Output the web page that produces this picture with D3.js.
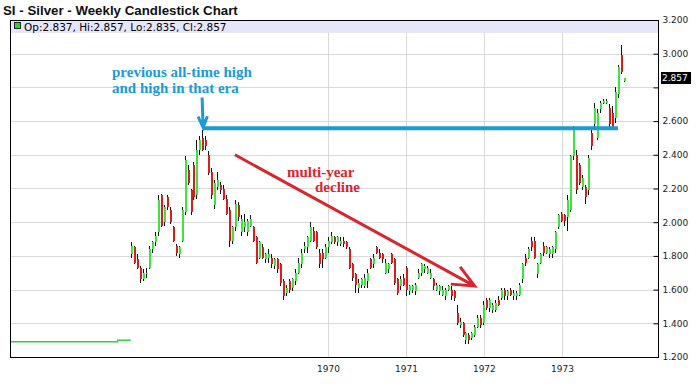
<!DOCTYPE html>
<html>
<head>
<meta charset="utf-8">
<script src="https://cdnjs.cloudflare.com/ajax/libs/d3/7.8.5/d3.min.js"></script>
<style>
  body { margin: 0; background: #fff; }
</style>
</head>
<body>
<div id="chartArea"></div>
<script>

var opens = [
	1.81,1.85,1.78,1.73,1.66,1.69,1.73,1.84,1.88,1.94,
	2.16,2.00,2.15,2.07,1.97,1.86,1.81,1.89,2.06,2.31,
	2.19,2.34,2.16,2.43,2.50,2.49,2.40,2.30,2.10,2.21,
	2.22,2.20,2.14,2.07,1.89,1.97,2.10,1.94,1.97,1.94,
	1.98,1.97,1.91,1.79,1.85,1.78,1.79,1.79,1.74,1.78,
	1.75,1.65,1.58,1.65,1.61,1.65,1.70,1.75,1.84,1.85,
	1.89,1.95,1.94,1.82,1.82,1.79,1.85,1.88,1.91,1.88,
	1.87,1.89,1.88,1.84,1.75,1.69,1.61,1.63,1.62,1.65,
	1.78,1.75,1.85,1.82,1.81,1.70,1.72,1.81,1.78,1.66,
	1.62,1.67,1.73,1.59,1.60,1.59,1.67,1.70,1.72,1.70,
	1.67,1.66,1.60,1.59,1.57,1.56,1.60,1.60,1.59,1.46,
	1.39,1.40,1.30,1.33,1.31,1.33,1.38,1.43,1.40,1.54,
	1.49,1.48,1.48,1.54,1.55,1.60,1.56,1.60,1.56,1.56,
	1.57,1.66,1.79,1.79,1.89,1.89,1.69,1.76,1.86,1.82,
	1.81,1.81,1.84,1.97,2.05,2.04,2.03,2.07,2.39,2.40,
	2.34,2.21,2.21,2.19,2.53,2.58,2.50,2.67,2.71,2.71,
	2.68,2.65,2.62,2.76,2.99,2.837
];
var highs = [
	1.88,1.86,1.81,1.74,1.72,1.73,1.86,1.89,1.94,2.16,
	2.17,2.10,2.16,2.09,1.98,1.87,1.86,2.09,2.39,2.34,
	2.20,2.36,2.49,2.51,2.55,2.51,2.42,2.32,2.25,2.30,
	2.24,2.22,2.16,2.09,1.98,2.13,2.12,2.04,2.05,2.02,
	2.04,1.98,1.92,1.89,1.87,1.82,1.84,1.81,1.79,1.79,
	1.76,1.66,1.63,1.66,1.67,1.72,1.79,1.84,1.88,1.92,
	2.00,1.97,1.95,1.84,1.84,1.87,1.91,1.94,1.92,1.92,
	1.91,1.91,1.89,1.85,1.76,1.70,1.66,1.67,1.69,1.72,
	1.79,1.81,1.86,1.84,1.82,1.78,1.76,1.82,1.79,1.67,
	1.68,1.69,1.74,1.63,1.63,1.64,1.72,1.76,1.75,1.74,
	1.72,1.67,1.64,1.63,1.62,1.61,1.63,1.62,1.60,1.51,
	1.43,1.41,1.35,1.34,1.35,1.39,1.45,1.45,1.53,1.55,
	1.55,1.52,1.54,1.56,1.61,1.61,1.60,1.61,1.60,1.59,
	1.64,1.76,1.81,1.85,1.91,1.91,1.76,1.82,1.88,1.86,
	1.85,1.86,1.95,2.05,2.06,2.05,2.16,2.40,2.57,2.43,
	2.35,2.28,2.22,2.40,2.55,2.71,2.67,2.72,2.73,2.73,
	2.70,2.69,2.80,2.93,3.05,2.857
];
var lows = [
	1.79,1.75,1.72,1.64,1.65,1.67,1.72,1.82,1.86,1.92,
	1.97,1.98,2.07,1.99,1.88,1.80,1.79,1.88,2.04,2.22,
	2.04,2.13,2.14,2.40,2.42,2.43,2.28,2.14,2.08,2.19,
	2.17,2.13,2.04,1.85,1.87,1.95,2.01,1.92,1.94,1.92,
	1.97,1.88,1.75,1.78,1.78,1.76,1.76,1.73,1.72,1.70,
	1.62,1.54,1.56,1.58,1.59,1.63,1.69,1.73,1.82,1.82,
	1.88,1.88,1.84,1.73,1.73,1.78,1.82,1.87,1.87,1.86,
	1.86,1.85,1.84,1.72,1.65,1.58,1.58,1.61,1.61,1.61,
	1.72,1.73,1.81,1.78,1.76,1.69,1.70,1.75,1.63,1.57,
	1.60,1.62,1.56,1.57,1.58,1.57,1.66,1.68,1.70,1.69,
	1.66,1.60,1.59,1.57,1.56,1.54,1.59,1.54,1.53,1.39,
	1.37,1.32,1.28,1.28,1.30,1.32,1.37,1.37,1.39,1.48,
	1.47,1.46,1.47,1.50,1.54,1.54,1.54,1.56,1.54,1.54,
	1.56,1.64,1.74,1.78,1.83,1.78,1.67,1.75,1.80,1.81,
	1.79,1.79,1.82,1.96,2.00,1.98,1.95,2.06,2.37,2.17,
	2.22,2.19,2.11,2.16,2.43,2.55,2.49,2.65,2.70,2.70,
	2.56,2.55,2.59,2.74,2.88,2.835
];
var closes = [
	1.86,1.76,1.73,1.66,1.70,1.70,1.84,1.88,1.92,2.13,
	1.98,2.09,2.09,2.00,1.89,1.82,1.85,2.07,2.37,2.23,
	2.06,2.15,2.43,2.49,2.43,2.45,2.29,2.16,2.23,2.25,
	2.19,2.14,2.05,1.89,1.97,2.11,2.03,2.02,2.00,2.01,
	2.02,1.89,1.76,1.88,1.79,1.81,1.81,1.75,1.78,1.72,
	1.64,1.56,1.61,1.60,1.66,1.70,1.76,1.82,1.86,1.91,
	1.97,1.89,1.85,1.75,1.78,1.85,1.89,1.92,1.88,1.91,
	1.89,1.87,1.85,1.73,1.67,1.63,1.64,1.66,1.67,1.70,
	1.73,1.79,1.82,1.79,1.78,1.76,1.75,1.76,1.64,1.58,
	1.66,1.63,1.60,1.62,1.62,1.63,1.70,1.75,1.74,1.73,
	1.70,1.62,1.63,1.62,1.60,1.60,1.62,1.56,1.55,1.40,
	1.41,1.33,1.34,1.30,1.34,1.38,1.43,1.39,1.51,1.49,
	1.54,1.51,1.52,1.51,1.60,1.56,1.59,1.57,1.58,1.58,
	1.63,1.75,1.76,1.84,1.85,1.79,1.75,1.81,1.82,1.85,
	1.84,1.85,1.94,2.04,2.01,2.01,2.13,2.39,2.56,2.19,
	2.23,2.26,2.15,2.38,2.45,2.68,2.65,2.71,2.72,2.72,
	2.58,2.56,2.77,2.92,2.89,2.857
];

// fixed price before the candles start
var pegDates = ['1965-12-01', '1967-04-22', '1967-06-22'];
var pegValues = [1.29, 1.30, 1.30];

// axis ticks
var priceTicks = [1.2, 1.4, 1.6, 1.8, 2.0, 2.2, 2.4, 2.6, 2.8, 3.0, 3.2];
var yearTicks = [1970, 1971, 1972, 1973];

var firstWeek = new Date(1967, 5, 22);
var parse = d3.timeParse('%Y-%m-%d');

var W = 700, H = 387;
var plotL = 10, plotR = 658, plotT = 20, plotB = 357;
var sans = "'DejaVu Sans', sans-serif";
var serif = "'Liberation Serif', 'Times New Roman', serif";

var svg = d3.select('#chartArea').append('svg')
	.attr('width', W)
	.attr('height', H);

svg.append('rect').attr('width', W).attr('height', H).attr('fill', '#fff');

var x = d3.scaleTime()
	.domain([new Date(1970, 0, 1), new Date(1973, 0, 1)])
	.range([328, 562]);

var y = d3.scaleLinear()
	.domain([1.2, 3.2])
	.range([plotB, plotT]);

// build candle objects
var candles = opens.map(function (o, i) {
	return {
		date: d3.timeDay.offset(firstWeek, 14 * i),
		o: o, h: highs[i], l: lows[i], c: closes[i]
	};
});
var last = candles[candles.length - 1];
var fmt = d3.format('.3f');

svg.append('clipPath').attr('id', 'plotClip')
	.append('rect')
	.attr('x', plotL).attr('y', plotT)
	.attr('width', plotR - plotL).attr('height', plotB - plotT);

// grid
var grid = svg.append('g').attr('shape-rendering', 'crispEdges');
grid.selectAll('line.h')
	.data(priceTicks.slice(1, -1))
	.enter()
	.append('line')
	.attr('class', 'h')
	.attr('x1', plotL).attr('x2', plotR)
	.attr('y1', function (d) { return Math.round(y(d)) + 0.5; })
	.attr('y2', function (d) { return Math.round(y(d)) + 0.5; })
	.attr('stroke', '#d9d9d9');
grid.selectAll('line.v')
	.data(yearTicks)
	.enter()
	.append('line')
	.attr('class', 'v')
	.attr('x1', function (d) { return Math.round(x(new Date(d, 0, 1))) + 0.5; })
	.attr('x2', function (d) { return Math.round(x(new Date(d, 0, 1))) + 0.5; })
	.attr('y1', plotT).attr('y2', plotB)
	.attr('stroke', '#d9d9d9');

// legend band
svg.append('rect')
	.attr('x', plotL + 1).attr('y', plotT + 1)
	.attr('width', plotR - plotL - 1).attr('height', 12)
	.attr('fill', '#e6e6fa');
svg.append('rect')
	.attr('x', 14.5).attr('y', 22.5)
	.attr('width', 6).attr('height', 6)
	.attr('fill', '#22dd22').attr('stroke', '#222');
svg.append('text')
	.attr('x', 24).attr('y', 30.5)
	.style('font-family', sans)
	.style('font-size', '10.5px')
	.attr('fill', '#000')
	.text('Op:' + fmt(last.o) + ', Hi:' + fmt(last.h) + ', Lo:' + fmt(last.l) + ', Cl:' + fmt(last.c));

var plot = svg.append('g').attr('clip-path', 'url(#plotClip)');

// peg line
var peg = pegDates.map(function (d, i) { return { date: parse(d), v: pegValues[i] }; });
plot.append('path')
	.datum(peg)
	.attr('fill', 'none')
	.attr('stroke', '#3ccf3c')
	.attr('stroke-width', 1.5)
	.attr('d', d3.line()
		.curve(d3.curveStepAfter)
		.x(function (d) { return x(d.date); })
		.y(function (d) { return y(d.v); }));

// candles: wick sits under the body, only the tails show
var cg = plot.append('g').attr('shape-rendering', 'crispEdges');
cg.selectAll('line')
	.data(candles)
	.enter()
	.append('line')
	.attr('x1', function (d) { return Math.round(x(d.date)) + 0.5; })
	.attr('x2', function (d) { return Math.round(x(d.date)) + 0.5; })
	.attr('y1', function (d) { return y(d.h); })
	.attr('y2', function (d) { return y(d.l); })
	.attr('stroke', '#111');
cg.selectAll('rect')
	.data(candles)
	.enter()
	.append('rect')
	.attr('x', function (d) { return Math.round(x(d.date)); })
	.attr('width', 2)
	.attr('y', function (d) { return y(Math.max(d.o, d.c)); })
	.attr('height', function (d) { return Math.max(1.5, Math.abs(y(d.o) - y(d.c))); })
	.attr('fill', function (d) { return d.c >= d.o ? '#3fe33f' : '#d91c1c'; });

// frame
svg.append('rect')
	.attr('x', plotL + 0.5).attr('y', plotT + 0.5)
	.attr('width', plotR - plotL).attr('height', plotB - plotT)
	.attr('fill', 'none').attr('stroke', '#000')
	.attr('shape-rendering', 'crispEdges');

// right price axis
var yAxis = d3.axisRight(y)
	.tickValues(priceTicks)
	.tickSizeInner(-5)
	.tickSizeOuter(0)
	.tickPadding(4)
	.tickFormat(function (d) {
		return Math.abs(y(d) - y(last.c)) < 12 ? '' : fmt(d);
	});
var ya = svg.append('g')
	.attr('transform', 'translate(' + (plotR + 0.5) + ',0)')
	.call(yAxis);
ya.select('.domain').remove();
ya.selectAll('text').style('font-family', sans).style('font-size', '9px').attr('fill', '#222');
ya.selectAll('line').attr('stroke', '#000');

// bottom year axis
var xAxis = d3.axisBottom(x)
	.tickValues(yearTicks.map(function (d) { return new Date(d, 0, 1); }))
	.tickSize(0)
	.tickPadding(8)
	.tickFormat(d3.timeFormat('%Y'));
var xa = svg.append('g')
	.attr('transform', 'translate(0,' + (plotB + 0.5) + ')')
	.call(xAxis);
xa.select('.domain').remove();
xa.selectAll('text').style('font-family', sans).style('font-size', '9px').attr('fill', '#222');

// last price tag
svg.append('rect')
	.attr('x', plotR + 3).attr('y', Math.round(y(last.c)) - 6)
	.attr('width', 30).attr('height', 12)
	.attr('fill', '#000');
svg.append('text')
	.attr('x', plotR + 4).attr('y', y(last.c))
	.attr('dy', '0.35em')
	.style('font-family', sans)
	.style('font-size', '9px')
	.attr('fill', '#fff')
	.text(fmt(last.c));

// title
svg.append('text')
	.attr('x', 3).attr('y', 15)
	.style('font-family', "'Liberation Sans', Arial, sans-serif")
	.style('font-weight', 'bold')
	.style('font-size', '13.3px')
	.attr('fill', '#111')
	.text('SI - Silver - Weekly Candlestick Chart');

// annotations
function arrow(g, x1, y1, x2, y2, len, spread, color, width) {
	var a = Math.atan2(y1 - y2, x1 - x2);
	var p = d3.path();
	p.moveTo(x1, y1);
	p.lineTo(x2, y2);
	p.moveTo(x2 + len * Math.cos(a + spread), y2 + len * Math.sin(a + spread));
	p.lineTo(x2, y2);
	p.lineTo(x2 + len * Math.cos(a - spread), y2 + len * Math.sin(a - spread));
	g.append('path')
		.attr('d', p.toString())
		.attr('fill', 'none')
		.attr('stroke', color)
		.attr('stroke-width', width);
}

var blue = '#1c9ad8', red = '#d9262e';
var peakDate = new Date(1968, 4, 26);
var ann = svg.append('g');

ann.append('line')
	.attr('x1', x(peakDate)).attr('x2', x(new Date(1973, 8, 20)))
	.attr('y1', y(2.558)).attr('y2', y(2.558))
	.attr('stroke', blue).attr('stroke-width', 4);
arrow(ann, x(peakDate) - 1, y(2.74), x(peakDate), y(2.562), 12, 0.4, blue, 3);
arrow(ann, x(new Date(1968, 9, 22)), y(2.40), x(new Date(1971, 10, 19)), y(1.621), 24, 0.42, red, 3);

function note(tx, ty, color, str) {
	ann.append('text').attr('x', tx).attr('y', ty)
		.style('font-family', serif).style('font-weight', 'bold').style('font-size', '15px')
		.attr('fill', color).text(str);
}
note(112, 77, blue, 'previous all-time high');
note(112, 93, blue, 'and high in that era');
note(287, 177, red, 'multi-year');
note(315, 192, red, 'decline');

</script>
</body>
</html>
